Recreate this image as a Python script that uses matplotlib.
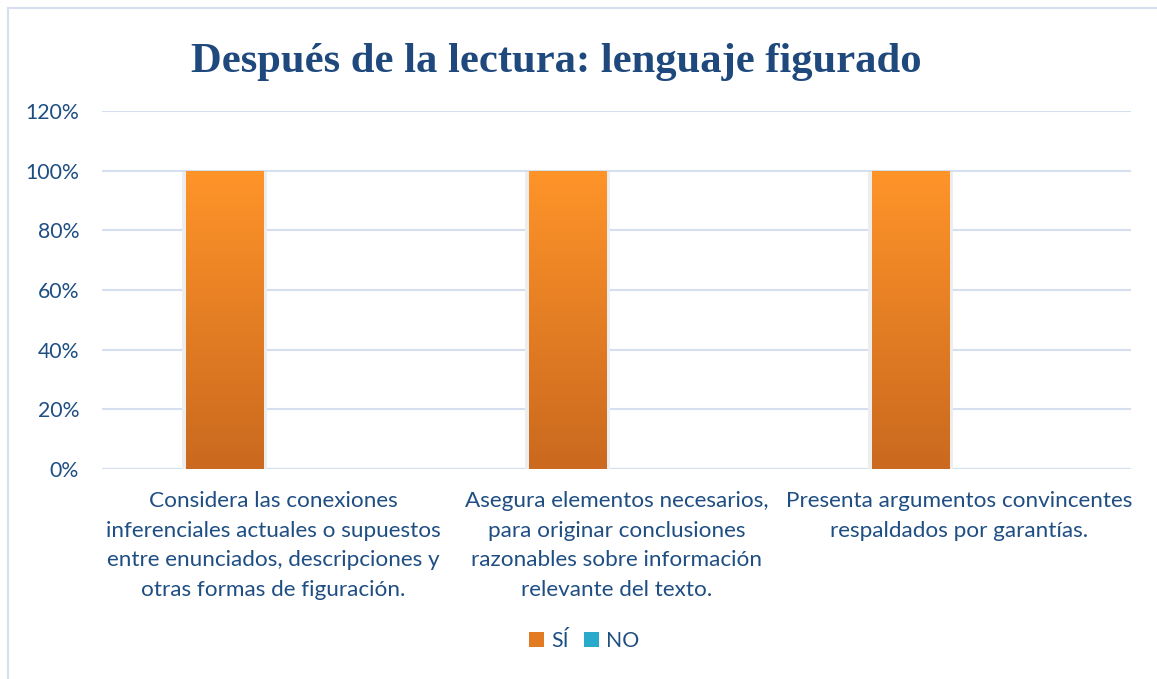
import matplotlib
matplotlib.use("Agg")
import matplotlib.pyplot as plt
import numpy as np
from matplotlib.colors import LinearSegmentedColormap
from matplotlib.patches import Patch
from matplotlib.lines import Line2D

title = "Después de la lectura: lenguaje figurado"
categories = [
    "Considera las conexiones\ninferenciales actuales o supuestos\nentre enunciados, descripciones y\notras formas de figuración.",
    "Asegura elementos necesarios,\npara originar conclusiones\nrazonables sobre información\nrelevante del texto.",
    "Presenta argumentos convincentes\nrespaldados por garantías.",
]
series_names = ["SÍ", "NO"]
si_values = [1.0, 1.0, 1.0]
no_values = [0.0, 0.0, 0.0]
yticks = [0, 0.2, 0.4, 0.6, 0.8, 1.0, 1.2]
ytick_labels = ["0%", "20%", "40%", "60%", "80%", "100%", "120%"]

W, H = 1157, 679
fig = plt.figure(figsize=(W / 100, H / 100), dpi=100)
text_color = "#1F4E83"
grid_color = "#D5DFEF"

# chart frame (left and top edges)
fig.add_artist(Line2D([8 / W, 8 / W], [0, 1 - 8 / H], color=grid_color, lw=1.5, transform=fig.transFigure))
fig.add_artist(Line2D([8 / W, 1], [1 - 8 / H, 1 - 8 / H], color=grid_color, lw=1.5, transform=fig.transFigure))

left, right, top, bottom = 102, 1131, 111, 469
ax = fig.add_axes([left / W, 1 - bottom / H, (right - left) / W, (bottom - top) / H])
ax.set_xlim(-0.5, 2.5)
ax.set_ylim(0, 1.2)

x = np.arange(len(categories))
bw = 0.225
off = 0.143
bars_si = ax.bar(x - off, si_values, width=bw, color="#F28C28", zorder=3)
bars_no = ax.bar(x + off, no_values, width=bw, color="#2AAACB", zorder=3)

cmap_o = LinearSegmentedColormap.from_list("o", ["#CA691F", "#FF9429"])
grad = np.linspace(0, 1, 256).reshape(-1, 1)
for b in bars_si:
    x0, y0 = b.get_x(), b.get_y()
    w, h = b.get_width(), b.get_height()
    if h <= 0:
        continue
    # faint shadow
    ax.bar(x0 + w / 2, h, width=w * 1.09, bottom=-0.006, color="#EDEDED", zorder=2)
    im = ax.imshow(grad, extent=[x0, x0 + w, y0, y0 + h], origin="lower",
                   aspect="auto", cmap=cmap_o, zorder=4)
    im.set_clip_path(b)
ax.set_xlim(-0.5, 2.5)
ax.set_ylim(0, 1.2)

ax.set_yticks(yticks)
ax.set_yticklabels(ytick_labels)
ax.set_xticks(x)
ax.set_xticklabels(categories, linespacing=1.6)
ax.tick_params(axis="y", length=0, colors=text_color, labelsize=15.3, pad=16.5)
ax.tick_params(axis="x", length=0, colors=text_color, labelsize=16.2, pad=16)
for lab in ax.get_xticklabels() + ax.get_yticklabels():
    lab.set_fontfamily("Lato")
for lab in ax.get_xticklabels():
    lab.set_verticalalignment("top")
ax.grid(axis="y", color=grid_color, lw=1.5, zorder=0)
for s in ax.spines.values():
    s.set_visible(False)
ax.axhline(0, color=grid_color, lw=1.5, zorder=1)

fig.text(556.5 / W, 1 - 62 / H, title, ha="center", va="center", fontsize=30.7,
         fontweight="bold", family="Liberation Serif", color="#1F497D")

handles = [Patch(facecolor="#E27B22", label=series_names[0]),
           Patch(facecolor="#2AAACB", label=series_names[1])]
leg = fig.legend(handles=handles, loc="center", bbox_to_anchor=(584 / W, 1 - 641 / H),
                 ncol=2, frameon=False, handlelength=0.7, handleheight=0.7,
                 handletextpad=0.35, columnspacing=0.7,
                 prop={"family": "Lato", "size": 15.3})
for t in leg.get_texts():
    t.set_color(text_color)

fig.savefig("out.png", dpi=100)
